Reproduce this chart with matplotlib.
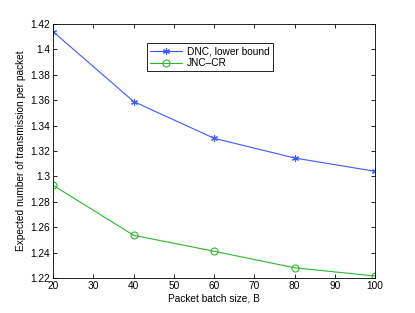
import matplotlib
matplotlib.use("Agg")
from matplotlib import pyplot as plt

plt.rcParams['font.family'] = ['Liberation Sans', 'DejaVu Sans']

batch_size = [20, 40, 60, 80, 100]
dnc_lower = [1.414, 1.359, 1.330, 1.3145, 1.304]
jnc_cr = [1.293, 1.2536, 1.241, 1.228, 1.2215]

xticks = [20, 30, 40, 50, 60, 70, 80, 90, 100]
yticks = [1.22, 1.24, 1.26, 1.28, 1.30, 1.32, 1.34, 1.36, 1.38, 1.40, 1.42]
ytick_labels = ['1.22', '1.24', '1.26', '1.28', '1.3', '1.32', '1.34', '1.36', '1.38', '1.4', '1.42']

fig = plt.figure(figsize=(4.15, 3.13), dpi=100)
ax = fig.add_axes([0.128, 0.112, 0.776, 0.811])

# asterisk marker like matlab's '*'
ax.plot(batch_size, dnc_lower, color='#3b5bff', lw=0.8, marker=(6, 2, 0), ms=5,
        mew=0.8, label='DNC, lower bound')
ax.plot(batch_size, jnc_cr, color='#2db82d', lw=0.8, marker='o', ms=5,
        mfc='none', mew=0.8, label='JNC\u2013CR')

ax.set_xlim(20, 100)
ax.set_ylim(1.22, 1.42)
ax.set_xticks(xticks)
ax.set_yticks(yticks)
ax.set_yticklabels(ytick_labels)
ax.tick_params(direction='in', top=True, right=True, labelsize=7.3, length=3, width=0.6, pad=2)
for s in ax.spines.values():
    s.set_linewidth(0.6)

ax.set_xlabel('Packet batch size, B', fontsize=7.3, labelpad=2)
ax.set_ylabel('Expected number of transmission per packet', fontsize=7.3, labelpad=3)

leg = ax.legend(loc='upper left', bbox_to_anchor=(0.29, 0.925), fontsize=7.3,
                fancybox=False, framealpha=1, edgecolor='black',
                borderpad=0.3, labelspacing=0.2, handlelength=3.2, handletextpad=0.5,
                borderaxespad=0)
leg.get_frame().set_linewidth(0.6)

fig.savefig('out.png', dpi=100)
